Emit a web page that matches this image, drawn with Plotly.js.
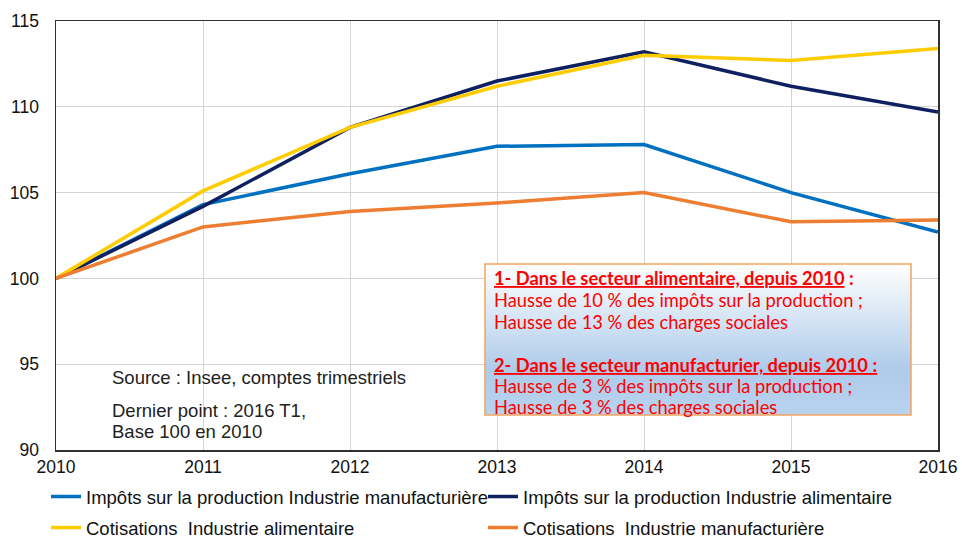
<!DOCTYPE html>
<html><head><meta charset="utf-8">
<script src="https://cdn.plot.ly/plotly-3.0.1.min.js"></script>
<style>html,body{margin:0;padding:0;background:#fff}#chart{width:962px;height:538px}</style>
</head><body><div id="chart"></div>
<script>
const years = [2010, 2011, 2012, 2013, 2014, 2015, 2016];
const impotsManuf = [100, 104.3, 106.1, 107.7, 107.8, 105.0, 102.7];
const impotsAlim = [100, 104.2, 108.8, 111.5, 113.2, 111.2, 109.7];
const cotisAlim = [100, 105.1, 108.8, 111.2, 113.0, 112.7, 113.4];
const cotisManuf = [100, 103.0, 103.9, 104.4, 105.0, 103.3, 103.4];
const seriesNames = [
  "Impôts sur la production Industrie manufacturière",
  "Impôts sur la production Industrie alimentaire",
  "Cotisations  Industrie alimentaire",
  "Cotisations  Industrie manufacturière"
];
const yTicks = [90, 95, 100, 105, 110, 115];

const font = "Liberation Sans, Arial, sans-serif";
function tr(y, name, color, leg) {
  return {x: years, y: y, name: name, type: 'scatter', mode: 'lines',
    line: {color: color, width: 3.5}, legend: leg};
}
const data = [
  tr(impotsManuf, seriesNames[0], '#0070C0', 'legend'),
  tr(impotsAlim, seriesNames[1], '#0E2060', 'legend2'),
  tr(cotisAlim, seriesNames[2], '#FFCC00', 'legend3'),
  tr(cotisManuf, seriesNames[3], '#ED7D31', 'legend4')
];

const gradSvg = "<svg xmlns='http://www.w3.org/2000/svg' width='100' height='100' preserveAspectRatio='none'><defs><linearGradient id='g' x1='0' y1='0' x2='0' y2='1'><stop offset='0' stop-color='#ffffff'/><stop offset='0.7' stop-color='#aecbea'/><stop offset='1' stop-color='#b8d3ee'/></linearGradient></defs><rect width='100' height='100' fill='url(#g)'/></svg>";
const gradSrc = "data:image/svg+xml;base64," + btoa(gradSvg);

const W = 962, H = 538;
const L = 56, R = 938, T = 21, B = 450;
const px = x => (x - L) / (R - L);
const py = y => (B - y) / (B - T);

const boxLines = [
  {t: "<b><u>1- Dans le secteur alimentaire, depuis 2010</u> :</b>", y: 278},
  {t: "Hausse de 10 % des impôts sur la production ;", y: 300},
  {t: "Hausse de 13 % des charges sociales", y: 322},
  {t: "<b><u>2- Dans le secteur manufacturier, depuis 2010 :</u></b>", y: 365},
  {t: "Hausse de 3 % des impôts sur la production ;", y: 386},
  {t: "Hausse de 3 % des charges sociales", y: 407}
];
const annotations = boxLines.map(l => ({
  xref: 'paper', yref: 'paper', x: px(492), y: py(l.y), xanchor: 'left', yanchor: 'middle',
  text: l.t, showarrow: false, font: {family: "Lato, sans-serif", size: 18.3, color: '#FF0000'}
}));
[["Source : Insee, comptes trimestriels", 377], ["Dernier point : 2016 T1,", 410], ["Base 100 en 2010", 431]].forEach(s => {
  annotations.push({xref: 'paper', yref: 'paper', x: px(110), y: py(s[1]), xanchor: 'left', yanchor: 'middle',
    text: s[0], showarrow: false, font: {family: font, size: 18.5, color: '#222'}});
});

const legBase = {orientation: 'h', xref: 'container', yref: 'container', xanchor: 'left', yanchor: 'middle',
  font: {size: 18.5, color: '#111'}, itemwidth: 30, bgcolor: 'rgba(0,0,0,0)'};
const leg = (x, y) => Object.assign({}, legBase, {x: x / W, y: 1 - y / H});

const layout = {
  width: W, height: H,
  margin: {l: L, r: W - R, t: T, b: H - B},
  paper_bgcolor: '#fff', plot_bgcolor: '#fff',
  font: {family: font, size: 17.5, color: '#111'},
  xaxis: {range: [2010, 2016], tickvals: years, ticktext: years.map(String), showgrid: true,
    gridcolor: '#d4d4d4', gridwidth: 1, showline: true, linecolor: '#303030', linewidth: 1.5,
    mirror: true, zeroline: false, ticks: '', tickfont: {size: 17.5}, automargin: false},
  yaxis: {range: [90, 115], tickvals: yTicks, showgrid: true, gridcolor: '#d4d4d4', gridwidth: 1,
    showline: true, linecolor: '#303030', linewidth: 1.5, mirror: true, zeroline: false,
    ticks: '', ticklabelstandoff: 12, tickfont: {size: 17.5}, automargin: false},
  showlegend: true,
  legend: leg(46, 497),
  legend2: leg(483, 497),
  legend3: leg(46, 528),
  legend4: leg(483, 528),
  images: [{source: gradSrc, xref: 'paper', yref: 'paper', x: px(485), y: py(264),
    sizex: px(911) - px(485), sizey: py(264) - py(415), sizing: 'stretch', xanchor: 'left', yanchor: 'top', layer: 'above'}],
  shapes: [{type: 'rect', xref: 'paper', yref: 'paper', x0: px(485), x1: px(911), y0: py(264), y1: py(415),
    line: {color: '#F4A460', width: 1.5}, fillcolor: 'rgba(0,0,0,0)', layer: 'above'}],
  annotations: annotations
};
Plotly.newPlot('chart', data, layout, {displayModeBar: false, staticPlot: true});
</script></body></html>
